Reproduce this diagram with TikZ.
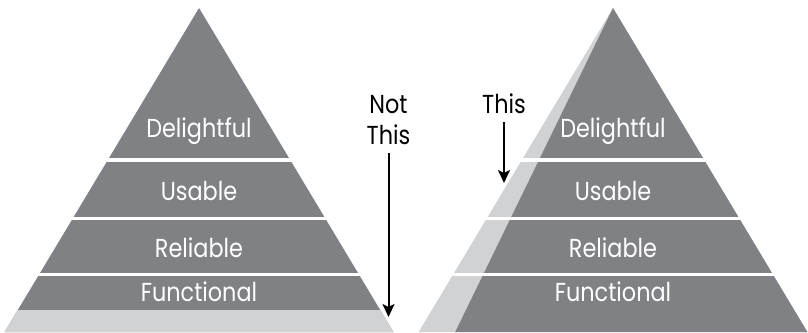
\documentclass[tikz,border=0pt]{standalone}
\usepackage{graphicx}
\usepackage{fontspec}
\setmainfont{Poppins}
\usetikzlibrary{arrows.meta}
\definecolor{pyrdark}{RGB}{128,129,132}
\definecolor{pyrlight}{RGB}{209,210,212}
\newcommand{\narrow}[1]{\scalebox{0.86}[1]{#1}}
\begin{document}
\begin{tikzpicture}[x=1pt, y=-1pt,
    band/.style={font=\fontsize{26}{31}\selectfont, text=white, anchor=base, inner sep=0pt},
    lbl/.style={font=\fontsize{26}{31}\selectfont, align=center, anchor=base, inner sep=0pt},
    gap/.style={white, line width=3.5pt},
    arr/.style={line width=2pt, -{Stealth[length=13pt, width=12pt, inset=3pt]}}]
    \useasboundingbox (0,0) rectangle (808,332);

    \fill[pyrdark] (199,8) -- (393.4,332) -- (4.6,332) -- cycle;
    \fill[pyrlight] (17.8,310) -- (380.2,310) -- (393.4,332) -- (4.6,332) -- cycle;
    \draw[gap] (105,160) -- (293,160)
        (70,218.5) -- (328,218.5)
        (37,274.5) -- (361,274.5);

    \node[band] (dl) at (199,137) {\narrow{Delightful}};
    \node[band] (ul) at (199,200) {\narrow{Usable}};
    \node[band] (rl) at (199,257) {\narrow{Reliable}};
    \node[band] (fl) at (199,301.5) {\narrow{Functional}};

    \fill[pyrlight] (613,8) -- (807.4,332) -- (418.6,332) -- cycle;
    \fill[pyrdark] (613,8) -- (807.4,332) -- (455.2,332) -- cycle;
    \draw[gap] (520,160) -- (706,160)
        (485,218.5) -- (741,218.5)
        (451,274.5) -- (775,274.5);

    \node[band] (dr) at (613,137) {\narrow{Delightful}};
    \node[band] (ur) at (613,200) {\narrow{Usable}};
    \node[band] (rr) at (613,257) {\narrow{Reliable}};
    \node[band] (fr) at (613,301.5) {\narrow{Functional}};

    \node[lbl] (notthis) at (388.5,144) {\narrow{Not}\\\narrow{This}};
    \node[lbl] (this) at (504,113) {\narrow{This}};
    \coordinate (nottip) at (388.5,317);
    \coordinate (thistip) at (504,183);

    \draw[arr] (notthis.south) ++(0,9) -- (nottip);
    \draw[arr] (this.south) ++(0,9) -- (thistip);
\end{tikzpicture}
\end{document}
